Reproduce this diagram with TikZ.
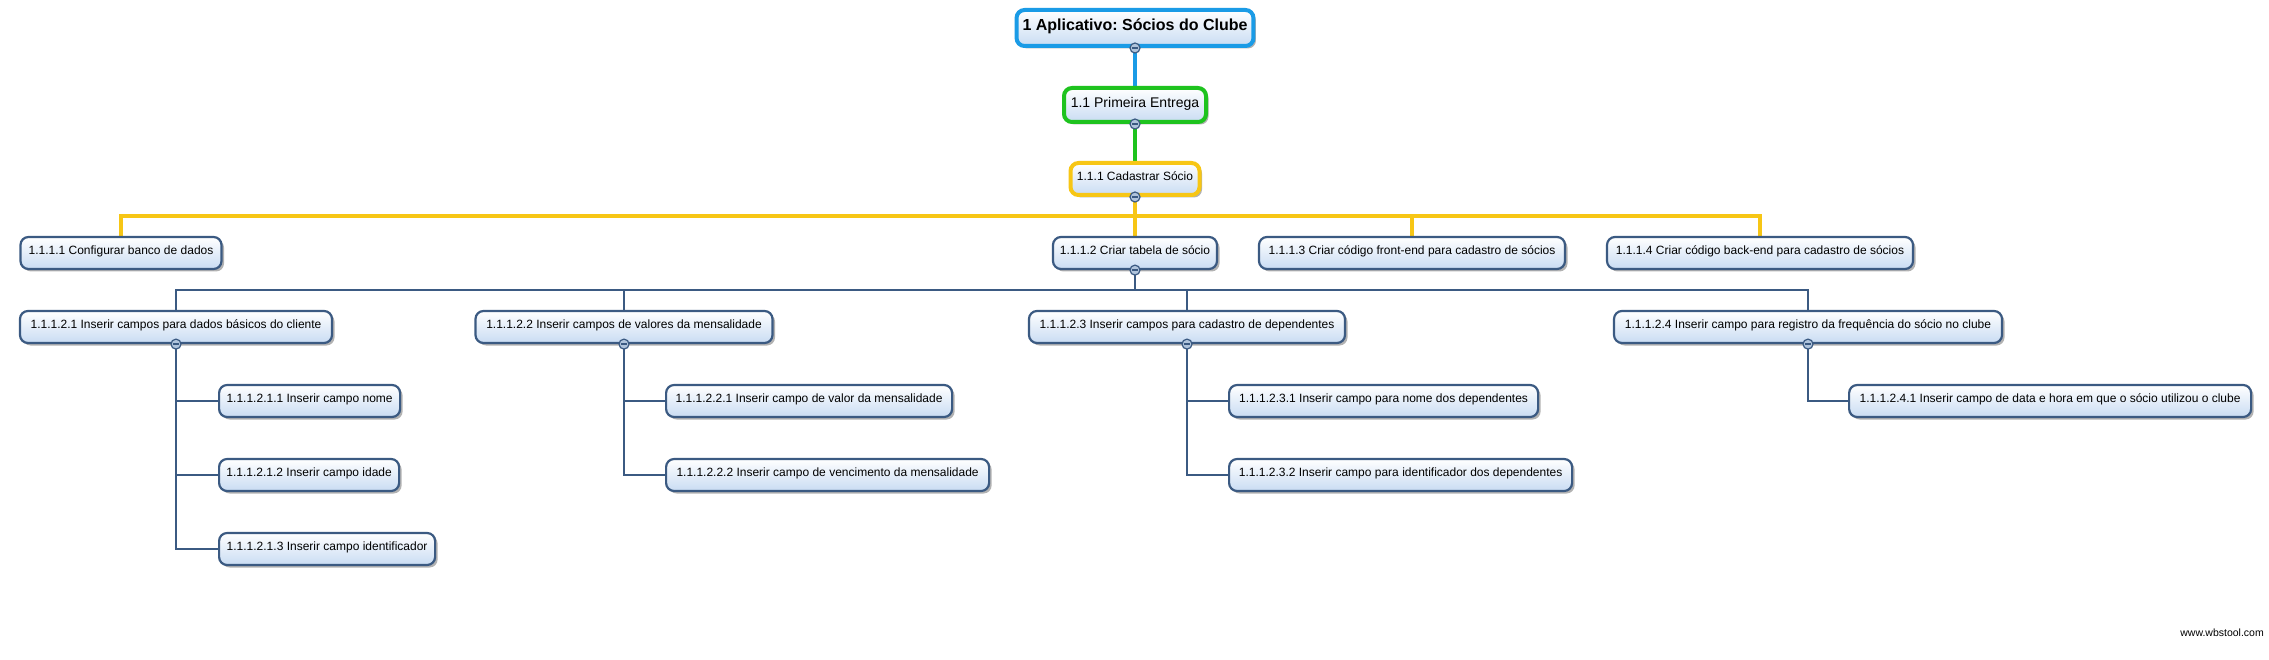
\documentclass[tikz,border=0pt]{standalone}
\usepackage{fontspec}
\setmainfont{Liberation Sans}
\frenchspacing
\usetikzlibrary{shadows,backgrounds}
\definecolor{rootblue}{RGB}{26,155,230}
\definecolor{primgreen}{RGB}{30,195,30}
\definecolor{cadyellow}{RGB}{247,198,21}
\definecolor{boxline}{RGB}{59,90,130}
\definecolor{boxblue}{RGB}{201,220,243}
\definecolor{minusfill}{RGB}{176,196,220}
\tikzset{
  wbox/.style={draw=boxline, line width=2.2pt, rounded corners=8pt,
    top color=white, bottom color=boxblue,
    drop shadow={shadow xshift=2.5pt, shadow yshift=-2.5pt, fill=black, opacity=0.3},
    minimum height=32pt, inner xsep=6pt, inner ysep=1pt,
    text height=9pt, text depth=6pt,
    font=\fontsize{12}{14}\selectfont, text=black},
  topbox/.style={wbox, line width=4pt},
  leaf/.style={wbox, anchor=west},
  conn/.style={line width=4pt},
  tconn/.style={draw=boxline, line width=2.6pt},
  collapse/.style={circle, draw=boxline, line width=1.2pt, fill=minusfill,
    minimum size=10pt, inner sep=0pt,
    path picture={\draw[boxline, line width=1.6pt]
      ([xshift=-2.6pt]path picture bounding box.center) --
      ([xshift=2.6pt]path picture bounding box.center);}},
}
\begin{document}
\begin{tikzpicture}[x=1pt,y=-1pt]
\useasboundingbox (0,0) rectangle (2269,660);

% top levels
\node[topbox, draw=rootblue, minimum width=234pt, minimum height=36pt,
  text height=12pt, text depth=6pt,
  font=\bfseries\fontsize{16}{18}\selectfont] (root) at (1135,28) {1 Aplicativo: Sócios do Clube};
\node[topbox, draw=primgreen, minimum width=142pt, minimum height=34pt,
  text height=10.5pt, text depth=6pt,
  font=\fontsize{14}{16}\selectfont] (n11) at (1135,105) {1.1 Primeira Entrega};
\node[topbox, draw=cadyellow, minimum width=129pt, minimum height=32pt] (n111) at (1135,179) {1.1.1 Cadastrar Sócio};

% level 4
\node[wbox, minimum width=201pt] (n1111) at (121,253) {1.1.1.1 Configurar banco de dados};
\node[wbox, minimum width=164pt] (n1112) at (1135,253) {1.1.1.2 Criar tabela de sócio};
\node[wbox, minimum width=306pt] (n1113) at (1412,253) {1.1.1.3 Criar código front-end para cadastro de sócios};
\node[wbox, minimum width=306pt] (n1114) at (1760,253) {1.1.1.4 Criar código back-end para cadastro de sócios};

% level 5
\node[wbox, minimum width=312pt] (n11121) at (176,327) {1.1.1.2.1 Inserir campos para dados básicos do cliente};
\node[wbox, minimum width=297pt] (n11122) at (624,327) {1.1.1.2.2 Inserir campos de valores da mensalidade};
\node[wbox, minimum width=316pt] (n11123) at (1187,327) {1.1.1.2.3 Inserir campos para cadastro de dependentes};
\node[wbox, minimum width=388pt] (n11124) at (1808,327) {1.1.1.2.4 Inserir campo para registro da frequência do sócio no clube};

% level 6
\node[leaf, minimum width=181pt] (n111211) at (218,401) {1.1.1.2.1.1 Inserir campo nome};
\node[leaf, minimum width=180pt] (n111212) at (218,475) {1.1.1.2.1.2 Inserir campo idade};
\node[leaf, minimum width=216pt] (n111213) at (218,549) {1.1.1.2.1.3 Inserir campo identificador};
\node[leaf, minimum width=286pt] (n111221) at (665,401) {1.1.1.2.2.1 Inserir campo de valor da mensalidade};
\node[leaf, minimum width=323pt] (n111222) at (665,475) {1.1.1.2.2.2 Inserir campo de vencimento da mensalidade};
\node[leaf, minimum width=309pt] (n111231) at (1228,401) {1.1.1.2.3.1 Inserir campo para nome dos dependentes};
\node[leaf, minimum width=343pt] (n111232) at (1228,475) {1.1.1.2.3.2 Inserir campo para identificador dos dependentes};
\node[leaf, minimum width=402pt] (n111241) at (1848,401) {1.1.1.2.4.1 Inserir campo de data e hora em que o sócio utilizou o clube};

% watermark
\node[anchor=east, inner sep=0pt, font=\fontsize{10.5}{12}\selectfont] (wm) at (2264,633) {www.wbstool.com};

\coordinate (bus1) at (1135,216);
\coordinate (bus2) at (1135,290);

\begin{pgfonlayer}{background}
\fill[white] (0,0) rectangle (2269,660);
\draw[conn, rootblue] (root.south) -- (n11.north);
\draw[conn, primgreen] (n11.south) -- (n111.north);
\draw[conn, cadyellow] (n111.south) -- (bus1) -| (n1111.north);
\draw[conn, cadyellow] (bus1) -| (n1112.north);
\draw[conn, cadyellow] (bus1) -| (n1113.north);
\draw[conn, cadyellow] (bus1) -| (n1114.north);
\draw[tconn] (n1112.south) -- (bus2) -| (n11121.north);
\draw[tconn] (bus2) -| (n11122.north);
\draw[tconn] (bus2) -| (n11123.north);
\draw[tconn] (bus2) -| (n11124.north);
\draw[tconn] (n11121.south) |- (n111211.west);
\draw[tconn] (n11121.south) |- (n111212.west);
\draw[tconn] (n11121.south) |- (n111213.west);
\draw[tconn] (n11122.south) |- (n111221.west);
\draw[tconn] (n11122.south) |- (n111222.west);
\draw[tconn] (n11123.south) |- (n111231.west);
\draw[tconn] (n11123.south) |- (n111232.west);
\draw[tconn] (n11124.south) |- (n111241.west);
\end{pgfonlayer}

% collapse markers
\node[collapse] (k0) at (root.south) {};
\node[collapse] (k1) at (n11.south) {};
\node[collapse] (k2) at (n111.south) {};
\node[collapse] (k3) at (n1112.south) {};
\node[collapse] (k4) at (n11121.south) {};
\node[collapse] (k5) at (n11122.south) {};
\node[collapse] (k6) at (n11123.south) {};
\node[collapse] (k7) at (n11124.south) {};
\end{tikzpicture}
\end{document}
